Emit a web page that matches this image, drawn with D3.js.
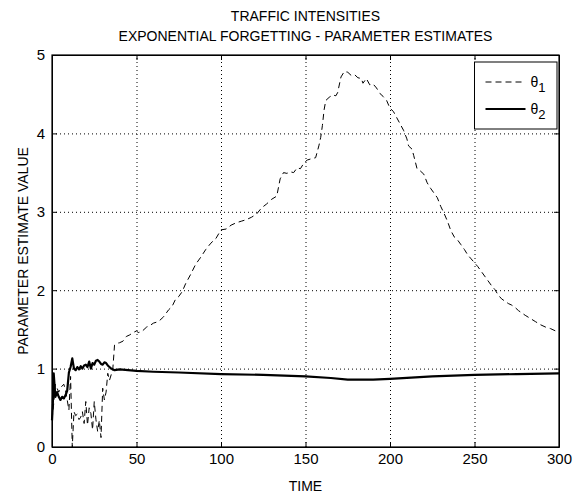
<!DOCTYPE html>
<html>
<head>
<meta charset="utf-8">
<script src="https://cdn.jsdelivr.net/npm/d3@7/dist/d3.min.js"></script>
<style>
  body { margin: 0; background: #fff; }
  text { font-family: "Liberation Sans", Arial, sans-serif; fill: #000; }
</style>
</head>
<body>
<script>
// data
const titleLines = ['TRAFFIC INTENSITIES', 'EXPONENTIAL FORGETTING - PARAMETER ESTIMATES'];
const xTicks = [0, 50, 100, 150, 200, 250, 300];
const yTicks = [0, 1, 2, 3, 4, 5];

const theta1Time = [0, 1, 2, 3, 4, 5, 6, 7, 8, 9, 10, 11, 12, 13, 14, 15, 16, 17, 18, 19,
  20, 21, 22, 23, 24, 25, 26, 27, 28, 29, 30, 31, 32, 33, 34, 35, 36, 37, 38, 40,
  42, 44, 46, 48, 50, 51, 53, 56, 58, 60, 63, 66, 69, 71, 73, 75, 77, 79, 82, 85,
  88, 91, 94, 97, 100, 103, 106, 109, 112, 115, 118, 121, 124, 127, 130, 133, 135, 137, 139, 141,
  143, 145, 147, 149, 151, 154, 156, 158, 159, 160, 161, 162, 164, 166, 168, 169, 171, 173, 175, 177,
  179, 181, 183, 184, 186, 188, 190, 192, 194, 196, 198, 200, 202, 204, 206, 208, 210, 211, 213, 214,
  216, 218, 220, 222, 224, 226, 228, 230, 232, 234, 236, 238, 240, 242, 244, 246, 248, 250, 252, 254,
  256, 258, 260, 262, 264, 266, 268, 270, 272, 274, 276, 278, 280, 283, 286, 289, 292, 295, 298, 300];
const theta1Value = [0.35, 0.55, 0.8, 0.75, 0.7, 0.75, 0.78, 0.8, 0.72, 0.6, 0.47, 0.9, 0.0, 0.45, 0.4, 0.42, 0.35, 0.38, 0.45, 0.3,
  0.58, 0.28, 0.5, 0.43, 0.22, 0.58, 0.35, 0.2, 0.34, 0.12, 0.75, 0.6, 0.7, 0.94, 0.85, 0.92, 1.0, 1.3, 1.32, 1.33,
  1.35, 1.41, 1.43, 1.46, 1.48, 1.46, 1.47, 1.53, 1.55, 1.58, 1.6, 1.66, 1.75, 1.79, 1.88, 1.92, 1.98, 2.08, 2.2, 2.33,
  2.42, 2.52, 2.6, 2.66, 2.77, 2.78, 2.83, 2.86, 2.88, 2.9, 2.93, 2.97, 3.05, 3.1, 3.16, 3.2, 3.42, 3.5, 3.49, 3.51,
  3.5, 3.56, 3.55, 3.62, 3.66, 3.68, 3.69, 3.85, 3.95, 4.1, 4.3, 4.42, 4.46, 4.49, 4.48, 4.52, 4.72, 4.79, 4.78, 4.74,
  4.75, 4.71, 4.7, 4.64, 4.7, 4.62, 4.63, 4.58, 4.51, 4.47, 4.42, 4.32, 4.28, 4.2, 4.12, 4.04, 3.93, 3.84, 3.8, 3.72,
  3.55, 3.52, 3.48, 3.37, 3.3, 3.24, 3.18, 3.07, 2.98, 2.88, 2.76, 2.68, 2.64, 2.58, 2.52, 2.45, 2.4, 2.35, 2.3, 2.24,
  2.18, 2.12, 2.06, 2.01, 1.94, 1.89, 1.86, 1.83, 1.81, 1.78, 1.74, 1.71, 1.68, 1.64, 1.6, 1.56, 1.53, 1.51, 1.48, 1.47];

const theta2Time = [0, 0.5, 1, 2, 3, 4, 5, 6, 7, 8, 9, 10, 11, 12, 13, 14, 15, 16, 17, 18,
  19, 20, 21, 22, 23, 24, 25, 26, 27, 28, 29, 30, 31, 32, 33, 34, 35, 37, 40, 45,
  50, 60, 75, 100, 125, 150, 165, 175, 190, 200, 225, 250, 275, 300];
const theta2Value = [0.34, 0.55, 0.94, 0.64, 0.7, 0.64, 0.6, 0.64, 0.62, 0.66, 0.72, 0.95, 1.02, 1.13, 1.0, 0.98, 1.02, 0.99, 1.03, 1.0,
  1.04, 1.05, 1.02, 1.09, 1.0, 1.07, 1.05, 1.1, 1.11, 1.09, 1.06, 1.05, 1.08, 1.07, 1.04, 1.02, 1.0, 0.98, 0.99, 0.98,
  0.97, 0.96, 0.95, 0.93, 0.92, 0.9, 0.88, 0.86, 0.86, 0.87, 0.9, 0.92, 0.93, 0.94];

const svgWidth = 584;
const svgHeight = 495;
const margin = { top: 55, right: 25, bottom: 48, left: 52 };
const chartWidth = svgWidth - margin.left - margin.right;
const chartHeight = svgHeight - margin.top - margin.bottom;

const svg = d3.select('body').append('svg')
    .attr('width', svgWidth)
    .attr('height', svgHeight);

const g = svg.append('g').attr('transform', 'translate(' + margin.left + ',' + margin.top + ')');

const x = d3.scaleLinear().domain([0, 300]).range([0, chartWidth]);
const y = d3.scaleLinear().domain([0, 5]).range([chartHeight, 0]);

// dotted grid
g.append('g')
    .attr('class', 'grid')
    .attr('transform', 'translate(0,' + chartHeight + ')')
    .call(d3.axisBottom(x).tickValues(xTicks.slice(1, -1)).tickSize(-chartHeight).tickFormat(''));
g.append('g')
    .attr('class', 'grid')
    .call(d3.axisLeft(y).tickValues(yTicks.slice(1, -1)).tickSize(-chartWidth).tickFormat(''));
g.selectAll('.grid .domain').remove();
g.selectAll('.grid line')
    .attr('stroke', '#000')
    .attr('stroke-width', 1)
    .attr('stroke-dasharray', '1,3');

// axes with inward ticks
const tickFont = 15;
g.append('g')
    .attr('transform', 'translate(0,' + chartHeight + ')')
    .call(d3.axisBottom(x).tickValues(xTicks).tickFormat(d3.format('d')).tickSize(-5).tickPadding(6).tickSizeOuter(0));
g.append('g')
    .call(d3.axisLeft(y).tickValues(yTicks).tickFormat(d3.format('d')).tickSize(-5).tickPadding(7).tickSizeOuter(0));
g.append('g')
    .call(d3.axisTop(x).tickValues(xTicks).tickSize(-5).tickFormat('').tickSizeOuter(0));
g.append('g')
    .attr('transform', 'translate(' + chartWidth + ',0)')
    .call(d3.axisRight(y).tickValues(yTicks).tickSize(-5).tickFormat('').tickSizeOuter(0));
g.selectAll('.tick text')
    .style('font-family', '"Liberation Sans", Arial, sans-serif')
    .style('font-size', tickFont + 'px');
g.selectAll('.domain').attr('stroke', '#000');

// box
g.append('rect')
    .attr('width', chartWidth)
    .attr('height', chartHeight)
    .attr('fill', 'none')
    .attr('stroke', '#000')
    .attr('stroke-width', 1.2);

const theta1 = theta1Time.map((t, i) => ({ t: t, v: theta1Value[i] }));
const theta2 = theta2Time.map((t, i) => ({ t: t, v: theta2Value[i] }));

const line = d3.line()
    .x(d => x(d.t))
    .y(d => y(d.v));

g.append('path')
    .datum(theta1)
    .attr('fill', 'none')
    .attr('stroke', '#000')
    .attr('stroke-width', 1)
    .attr('stroke-dasharray', '6,4')
    .attr('d', line);

g.append('path')
    .datum(theta2)
    .attr('fill', 'none')
    .attr('stroke', '#000')
    .attr('stroke-width', 2.2)
    .attr('stroke-linejoin', 'round')
    .attr('d', line);

// legend
const legend = g.append('g').attr('transform', 'translate(' + x(250) + ',7)');
legend.append('rect')
    .attr('width', chartWidth - x(250) - 2)
    .attr('height', 67)
    .attr('fill', '#fff')
    .attr('stroke', '#000')
    .attr('stroke-width', 1);
const legendItems = [
    { sub: '1', dash: '6,4', w: 1 },
    { sub: '2', dash: null, w: 2.2 }
];
legendItems.forEach((item, i) => {
    const yy = 20 + i * 27;
    legend.append('line')
        .attr('x1', 11).attr('x2', 51)
        .attr('y1', yy).attr('y2', yy)
        .attr('stroke', '#000')
        .attr('stroke-width', item.w)
        .attr('stroke-dasharray', item.dash);
    const t = legend.append('text')
        .attr('x', 56)
        .attr('y', yy + 5)
        .style('font-size', '14px');
    t.append('tspan').text('θ');
    t.append('tspan').attr('dy', 5).style('font-size', '13px').text(item.sub);
});

// titles
titleLines.forEach((s, i) => {
    svg.append('text')
        .attr('x', margin.left + chartWidth / 2)
        .attr('y', 20.5 + i * 20)
        .attr('text-anchor', 'middle')
        .style('font-size', '14px')
        .text(s);
});

svg.append('text')
    .attr('x', margin.left + chartWidth / 2)
    .attr('y', 491)
    .attr('text-anchor', 'middle')
    .style('font-size', '14px')
    .text('TIME');

svg.append('text')
    .attr('transform', 'translate(28,' + (margin.top + chartHeight / 2) + ') rotate(-90)')
    .attr('text-anchor', 'middle')
    .style('font-size', '14px')
    .text('PARAMETER ESTIMATE VALUE');
</script>
</body>
</html>
